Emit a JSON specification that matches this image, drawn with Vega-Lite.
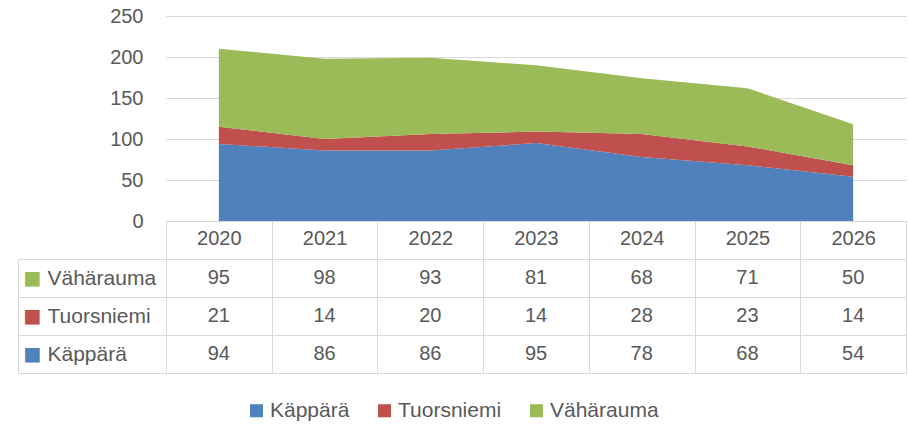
{
  "$schema": "https://vega.github.io/schema/vega-lite/v6.json",
  "padding": {"left": 17, "top": 6, "right": 3, "bottom": 0},
  "datasets": {
    "d": [
      {"year": "2020", "series": "Käppärä", "value": 94},
      {"year": "2021", "series": "Käppärä", "value": 86},
      {"year": "2022", "series": "Käppärä", "value": 86},
      {"year": "2023", "series": "Käppärä", "value": 95},
      {"year": "2024", "series": "Käppärä", "value": 78},
      {"year": "2025", "series": "Käppärä", "value": 68},
      {"year": "2026", "series": "Käppärä", "value": 54},
      {"year": "2020", "series": "Tuorsniemi", "value": 21},
      {"year": "2021", "series": "Tuorsniemi", "value": 14},
      {"year": "2022", "series": "Tuorsniemi", "value": 20},
      {"year": "2023", "series": "Tuorsniemi", "value": 14},
      {"year": "2024", "series": "Tuorsniemi", "value": 28},
      {"year": "2025", "series": "Tuorsniemi", "value": 23},
      {"year": "2026", "series": "Tuorsniemi", "value": 14},
      {"year": "2020", "series": "Vähärauma", "value": 95},
      {"year": "2021", "series": "Vähärauma", "value": 98},
      {"year": "2022", "series": "Vähärauma", "value": 93},
      {"year": "2023", "series": "Vähärauma", "value": 81},
      {"year": "2024", "series": "Vähärauma", "value": 68},
      {"year": "2025", "series": "Vähärauma", "value": 71},
      {"year": "2026", "series": "Vähärauma", "value": 50}
    ]
  },
  "columns": 1,
  "align": "all",
  "bounds": "flush",
  "spacing": 38,
  "concat": [
    {
      "width": 740,
      "height": 205,
      "view": {"stroke": null},
      "data": {"name": "d"},
      "mark": {"type": "area"},
      "encoding": {
        "x": {
          "field": "year", "type": "ordinal",
          "scale": {"type": "band", "paddingInner": 0, "paddingOuter": 0},
          "bandPosition": 0.5,
          "axis": {
            "title": null, "orient": "bottom", "labelAngle": 0,
            "domainColor": "#d9d9d9", "tickColor": "#d9d9d9",
            "tickSize": 38, "tickBand": "extent",
            "labelPadding": -31, "labelFontSize": 20, "labelColor": "#595959"
          }
        },
        "y": {
          "field": "value", "type": "quantitative", "stack": "zero",
          "scale": {"domain": [0, 250]},
          "axis": {
            "title": null, "domain": false, "ticks": false, "grid": true,
            "gridColor": "#d9d9d9", "values": [0, 50, 100, 150, 200, 250],
            "labelPadding": 23, "labelFontSize": 20, "labelColor": "#595959"
          }
        },
        "order": {"field": "series", "sort": "ascending"},
        "color": {
          "field": "series", "type": "nominal",
          "scale": {"domain": ["Käppärä", "Tuorsniemi", "Vähärauma"], "range": ["#4f81bd", "#c0504d", "#9bbb59"]},
          "legend": {
            "orient": "none", "legendX": 80, "legendY": 384,
            "direction": "horizontal", "title": null,
            "symbolType": "square", "symbolSize": 170, "symbolStrokeWidth": 0,
            "labelFontSize": 21, "labelColor": "#595959",
            "columnPadding": 24, "labelOffset": 3
          }
        }
      }
    },
    {
      "width": 740,
      "height": 114,
      "view": {"stroke": "#d9d9d9"},
      "data": {"name": "d"},
      "layer": [
        {
          "mark": {"type": "text", "fontSize": 20, "color": "#595959"},
          "encoding": {
            "x": {
              "field": "year", "type": "ordinal",
              "scale": {"type": "band", "paddingInner": 0, "paddingOuter": 0},
              "axis": {"title": null, "orient": "bottom", "labels": false, "ticks": false, "domain": false, "grid": true, "gridColor": "#d9d9d9", "tickBand": "extent"}
            },
            "y": {
              "field": "series", "type": "nominal",
              "scale": {"domain": ["Vähärauma", "Tuorsniemi", "Käppärä"], "paddingInner": 0, "paddingOuter": 0},
              "axis": {
                "title": null, "orient": "left", "domain": false,
                "ticks": true, "tickSize": 148, "tickColor": "#d9d9d9", "tickBand": "extent",
                "grid": true, "gridColor": "#d9d9d9",
                "labelAlign": "left", "labelPadding": -29,
                "labelFontSize": 21, "labelColor": "#595959"
              }
            },
            "text": {"field": "value", "type": "quantitative"}
          }
        },
        {
          "mark": {"type": "text", "opacity": 0},
          "encoding": {
            "x": {"field": "year", "type": "ordinal"},
            "y": {
              "field": "series", "type": "nominal",
              "axis": {
                "title": null, "orient": "left", "offset": 148,
                "domain": true, "domainColor": "#d9d9d9",
                "ticks": false, "grid": false,
                "labelAlign": "left", "labelPadding": -5,
                "labelExpr": "'■'", "labelFont": "DejaVu Sans", "labelFontSize": 19,
                "labelColor": {
                  "condition": [
                    {"test": "datum.value === 'Vähärauma'", "value": "#9bbb59"},
                    {"test": "datum.value === 'Tuorsniemi'", "value": "#c0504d"}
                  ],
                  "value": "#4f81bd"
                }
              }
            },
            "text": {"field": "value", "type": "quantitative"}
          }
        }
      ],
      "resolve": {"axis": {"y": "independent"}}
    }
  ],
  "config": {
    "font": "Liberation Sans",
    "axis": {"labelFont": "Liberation Sans"},
    "legend": {"labelFont": "Liberation Sans"},
    "text": {"font": "Liberation Sans"}
  }
}
